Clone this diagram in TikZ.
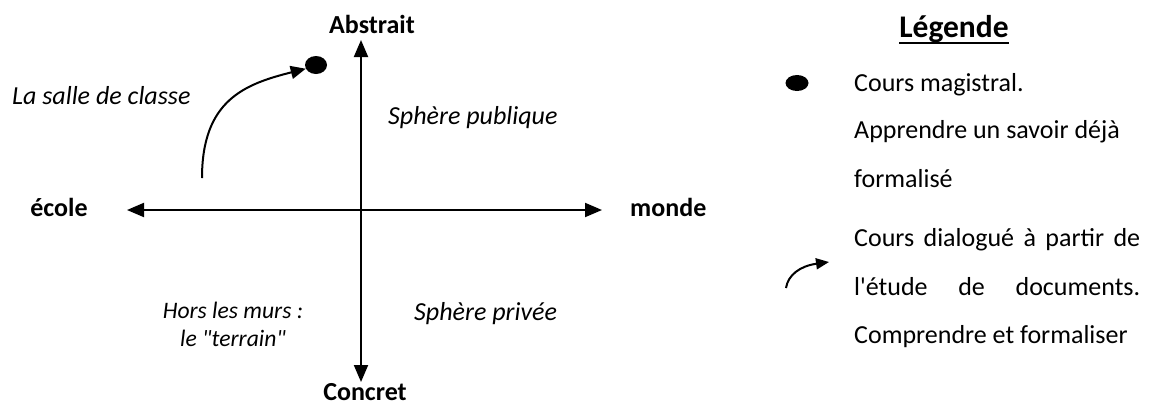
\documentclass[tikz,border=0pt]{standalone}
\usepackage{fontspec}
\setmainfont{Carlito}[Ligatures=TeXOff]
\usetikzlibrary{arrows.meta,shapes.geometric,calc}
\tikzset{
  txt/.style={inner sep=0pt, anchor=base, font=\fontsize{26}{31}\selectfont},
  axislbl/.style={txt, font=\fontsize{26}{31}\selectfont\bfseries},
  ital/.style={txt, font=\fontsize{26}{31}\selectfont\itshape},
  legtxt/.style={txt, anchor=base west},
  axis/.style={line width=2pt, {Triangle[length=17pt,width=14pt]}-{Triangle[length=17pt,width=14pt]}},
  curvearrow/.style={line width=2pt, -{Triangle[length=15pt,width=13pt]}},
  smallarrow/.style={line width=2pt, -{Triangle[length=13pt,width=11pt]}},
  blob/.style={ellipse, fill=black, draw=none, inner sep=0pt}
}
\begin{document}
\begin{tikzpicture}[x=1pt,y=-1pt]
\useasboundingbox (0,0) rectangle (1156,405);
% axes
\coordinate (vtop) at (361,40);
\coordinate (vbot) at (361,382);
\coordinate (hleft) at (127,210);
\coordinate (hright) at (602,210);
\draw[axis] (vbot) -- (vtop);
\draw[axis] (hleft) -- (hright);
% axis labels
\node[axislbl] (abstrait) at (372,33) {Abstrait};
\node[axislbl] (concret) at (365,400) {Concret};
\node[axislbl] (ecole) at (59,216) {école};
\node[axislbl, anchor=base west] (monde) at (630,216) {monde};
% quadrant labels
\node[ital, anchor=base west] (salle) at (12,104) {La salle de classe};
\node[ital, anchor=base west] (publique) at (388,124) {Sphère publique};
\node[ital, anchor=base west] (privee) at (414,320) {Sphère privée};
\node[txt, align=center, font=\fontsize{23.6}{28}\selectfont\itshape] (hors) at (233,346) {Hors les murs :\\le "terrain"};
% dot and curved arrow
\node[blob, minimum width=22pt, minimum height=18pt] (dot) at (316,65) {};
\coordinate (cstart) at (202,178);
\draw[curvearrow] (cstart) .. controls (202,100) and (245,84) .. (dot.200);
% legend
\node[txt, font=\fontsize{31.5}{38}\selectfont\bfseries] (leg) at (954,37) {Légende};
\draw[line width=2pt] ($(leg.base west)+(0,6)$) -- ($(leg.base east)+(0,6)$);
\node[blob, minimum width=23pt, minimum height=16pt] (legdot) at (797,83) {};
\node[legtxt] (l1) at (854,91) {Cours magistral.};
\node[legtxt] (l2) at (854,138) {Apprendre un savoir déjà};
\node[legtxt] (l3) at (854,187) {formalisé};
\node[legtxt] (l4) at (854,246) {\makebox[286pt][s]{Cours dialogué à partir de}};
\node[legtxt] (l5) at (854,295) {\makebox[286pt][s]{l'étude de documents.}};
\node[legtxt] (l6) at (854,343) {Comprendre et formaliser};
\coordinate (lastart) at (786,288);
\coordinate (laend) at (829,262);
\draw[smallarrow] (lastart) .. controls (788,275) and (800,266) .. (laend);
\end{tikzpicture}
\end{document}
